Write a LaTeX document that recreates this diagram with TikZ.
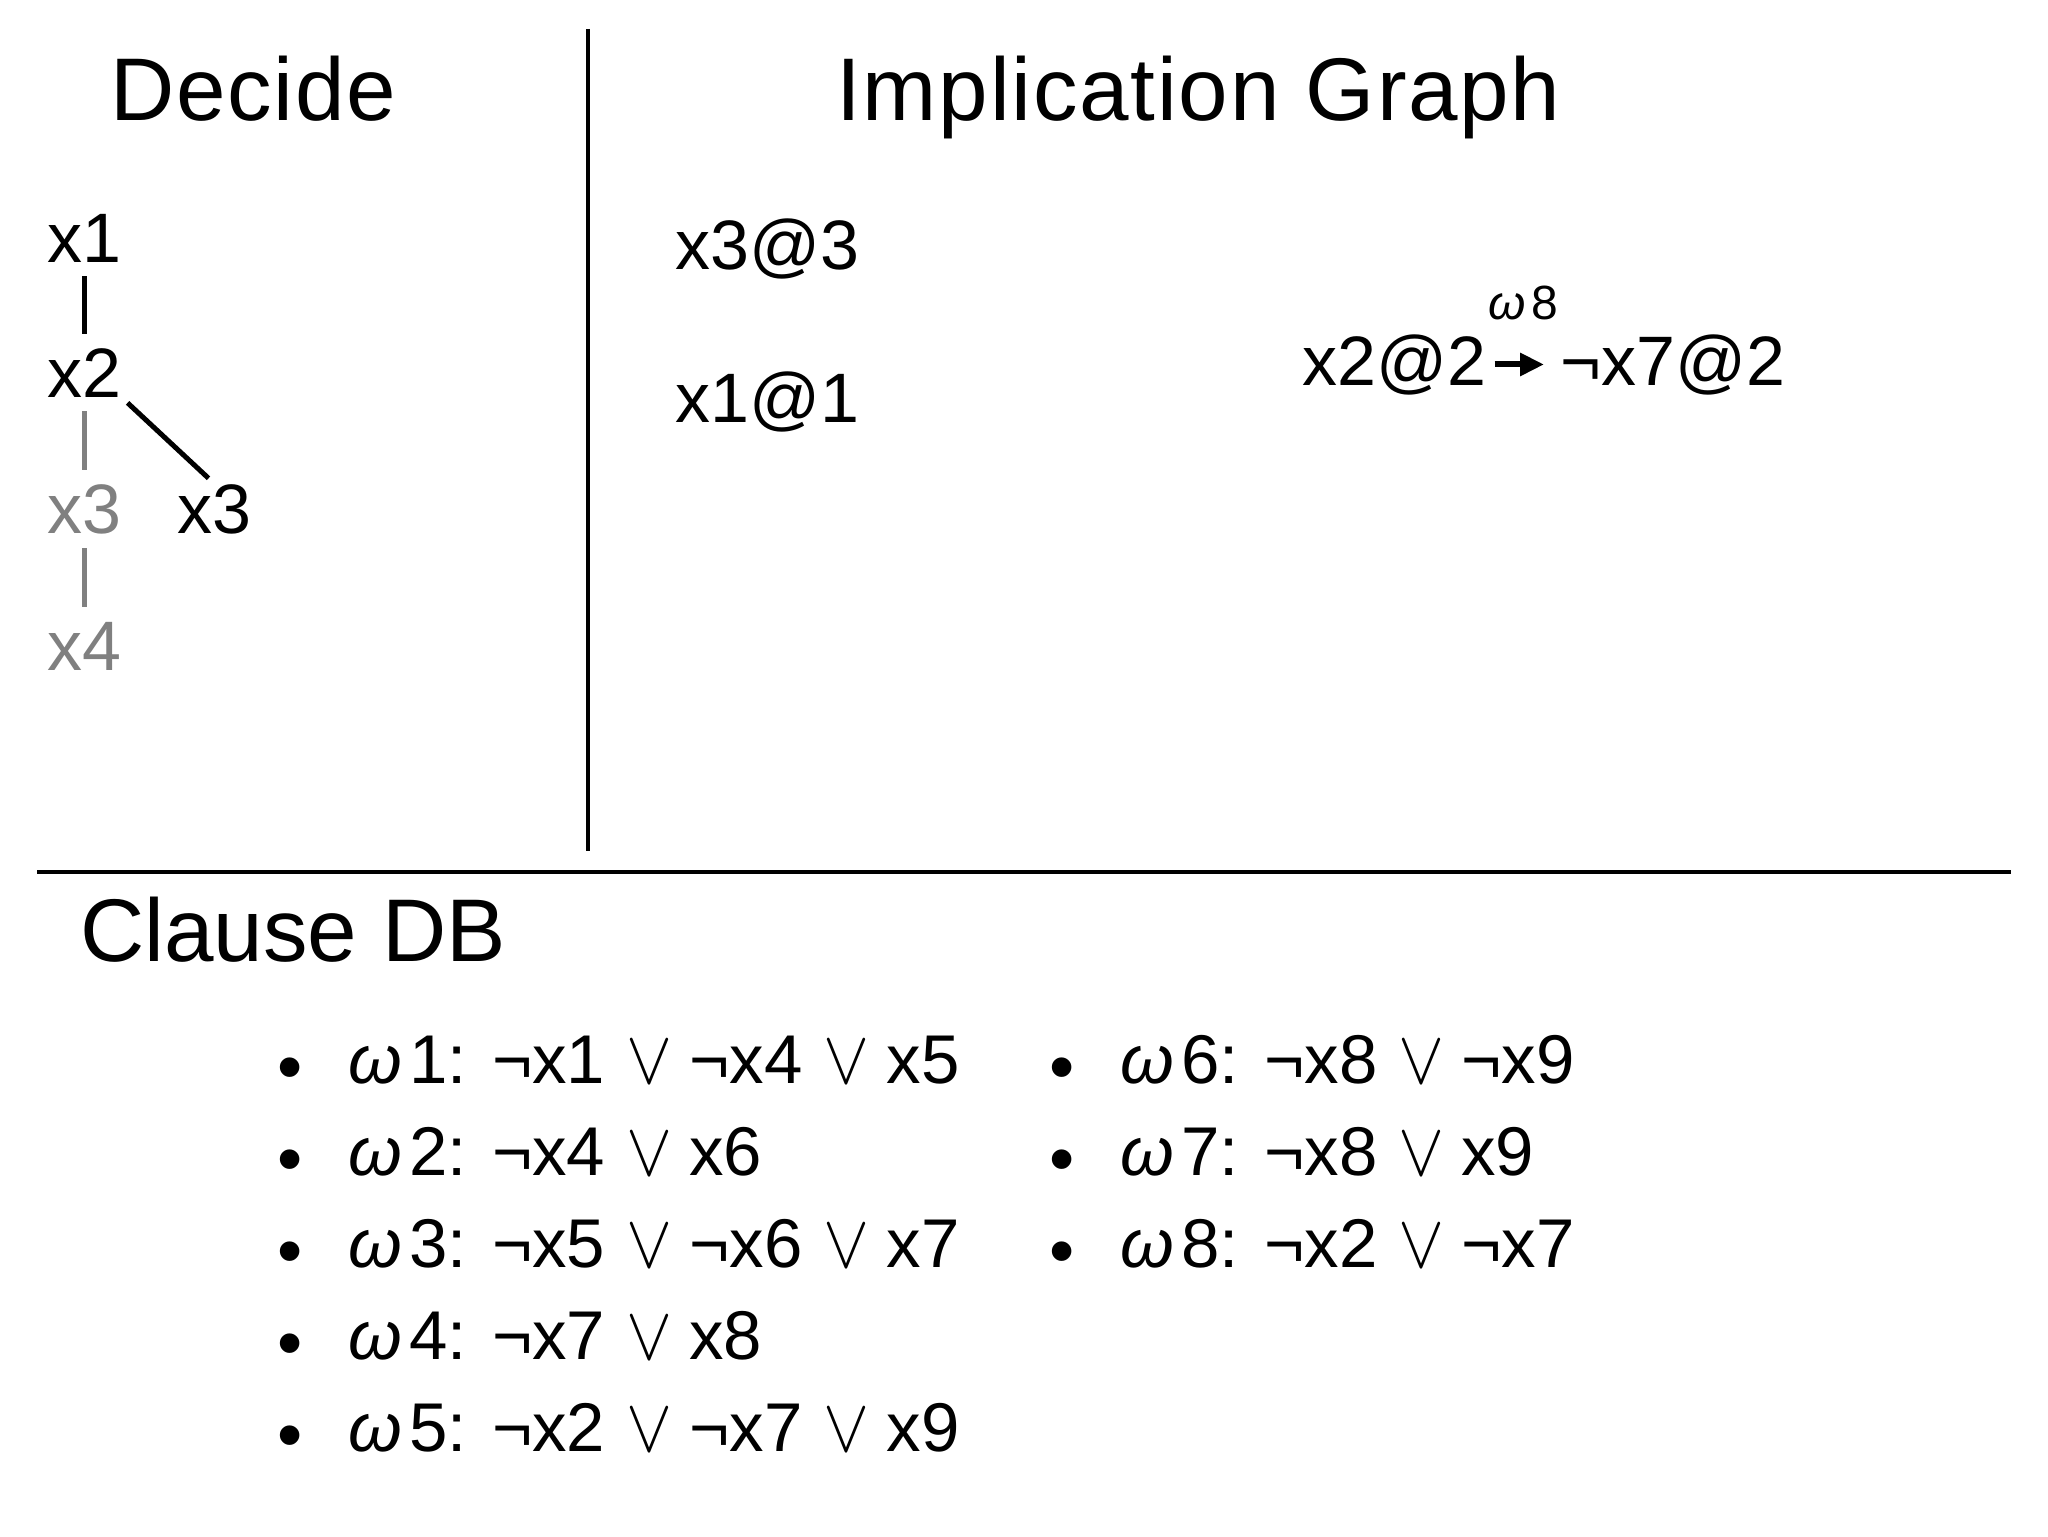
\documentclass[tikz,border=0pt]{standalone}
\usepackage{fix-cm}
\usepackage{fontspec}
\setmainfont{Liberation Sans}
\usetikzlibrary{positioning,arrows.meta}
\definecolor{undecided}{RGB}{128,128,128}
\newcommand{\wsym}{\makebox[0.88em][l]{\itshape ω}}
\newcommand{\vor}{\makebox[44pt]{\scalebox{1}[1.1]{$\vee$}}\hspace{-2pt}}
\tikzset{
  title/.style={font=\fontsize{44.5}{50}\selectfont, anchor=base west, inner sep=0pt},
  lit/.style={font=\fontsize{35}{40}\selectfont, anchor=base west, inner sep=0pt},
  clause/.style={font=\fontsize{34.5}{40}\selectfont, anchor=base west, inner sep=0pt},
  dot/.style={font=\fontsize{36}{36}\selectfont, inner sep=0pt},
  tree/.style={line width=2.5pt, shorten <=7pt, shorten >=7pt},
  divider/.style={line width=2pt},
}

\begin{document}
\begin{tikzpicture}[x=0.5pt, y=-0.5pt]
		\useasboundingbox (0,0) rectangle (2048,1536);
		
		% Define nodes
		\node[title, font=\fontsize{44.5}{50}\selectfont\addfontfeature{LetterSpace=2}] (dec) at (110,120) {Decide};
		\node[title, font=\fontsize{44.5}{50}\selectfont\addfontfeature{LetterSpace=2}] (ig)  at (836,120) {Implication Graph};
		\node[title] (cdb) at (80,961)  {Clause DB};
		
		\node[lit] (x1)  at (47,262)  {x1};
		\node[lit] (x2)  at (47,397)  {x2};
		\node[lit, text=undecided] (x3u) at (47,533)  {x3};
		\node[lit, text=undecided] (x4)  at (47,670)  {x4};
		\node[lit] (x3)  at (177,533) {x3};
		
		\node[lit] (x33) at (675,269)  {x3@3};
		\node[lit] (x11) at (675,422)  {x1@1};
		\node[lit] (x22) at (1302,385) {x2@2};
		\node[lit] (nx7) at (1560,385) {¬x7@2};
		
		\node[dot] (b1) at (290,1075) {•};
		\node[dot] (b2) at (290,1167) {•};
		\node[dot] (b3) at (290,1259) {•};
		\node[dot] (b4) at (290,1351) {•};
		\node[dot] (b5) at (290,1443) {•};
		\node[dot] (b6) at (1062,1075) {•};
		\node[dot] (b7) at (1062,1167) {•};
		\node[dot] (b8) at (1062,1259) {•};
		
		\node[clause] (w1) at (348,1083) {\wsym1: ¬x1\vor ¬x4\vor x5};
		\node[clause] (w2) at (348,1175) {\wsym2: ¬x4\vor x6};
		\node[clause] (w3) at (348,1267) {\wsym3: ¬x5\vor ¬x6\vor x7};
		\node[clause] (w4) at (348,1359) {\wsym4: ¬x7\vor x8};
		\node[clause] (w5) at (348,1451) {\wsym5: ¬x2\vor ¬x7\vor x9};
		\node[clause] (w6) at (1120,1083) {\wsym6: ¬x8\vor ¬x9};
		\node[clause] (w7) at (1120,1175) {\wsym7: ¬x8\vor x9};
		\node[clause] (w8) at (1120,1267) {\wsym8: ¬x2\vor ¬x7};
		
		% Dividers
		\coordinate (vtop) at (588,29);
		\coordinate (vbot) at (588,851);
		\coordinate (hlft) at (37,872);
		\coordinate (hrgt) at (2011,872);
		\draw[divider] (vtop) -- (vbot);
		\draw[divider] (hlft) -- (hrgt);
		
		% Connect the nodes
		\draw[tree] (x1.south) -- (x2.north);
		\draw[tree, undecided] (x2.south) -- (x3u.north);
		\draw[tree, undecided] (x3u.south) -- (x4.north);
		\draw[tree, shorten <=4pt, shorten >=4pt] (x2.south east) -- (x3.north);
		\draw[line width=3pt, -{Triangle[length=12pt,width=11pt]}, shorten <=4pt, shorten >=8pt]
		  (x22.east) -- node[midway, above=21pt, font=\fontsize{24}{26}\selectfont, inner sep=0pt] (w8lab) {\wsym8} (nx7.west);
		
\end{tikzpicture}
\end{document}
